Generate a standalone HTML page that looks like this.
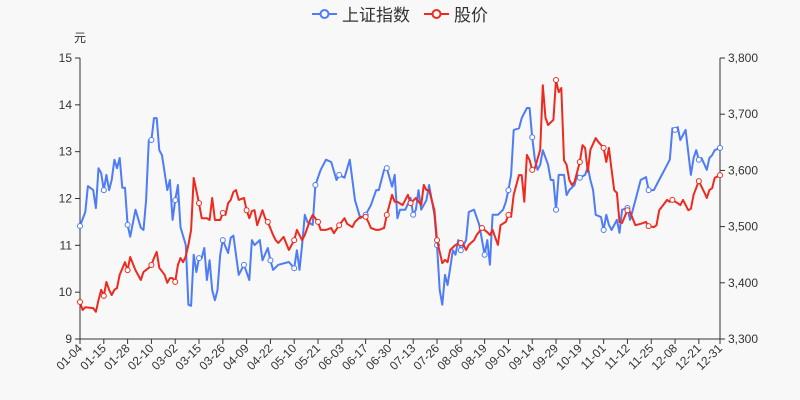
<!DOCTYPE html>
<html><head><meta charset="utf-8"><style>
body{margin:0;background:#f8f8f8;}
svg{display:block;font-family:"Liberation Sans","Noto Sans CJK SC",sans-serif;}
</style></head><body>
<svg id="chart" width="800" height="400">
<rect width="800" height="400" fill="#f8f8f8"/>
<g>
 <g>
  <line x1="312" y1="14" x2="337" y2="14" stroke="#4e7cf6" stroke-width="2"/>
  <circle cx="324.5" cy="14" r="4" fill="#f8f8f8" stroke="#4e7cf6" stroke-width="2"/>
  <text x="342" y="21" font-size="17" fill="#333">上证指数</text>
 </g>
 <g>
  <line x1="424" y1="14" x2="449" y2="14" stroke="#ee2a1f" stroke-width="2"/>
  <circle cx="436.5" cy="14" r="4" fill="#f8f8f8" stroke="#ee2a1f" stroke-width="2"/>
  <text x="454" y="21" font-size="17" fill="#333">股价</text>
 </g>
</g>
<text x="74" y="42" font-size="12" fill="#333">元</text>
<g id="axes"></g>
<g id="series"></g>
</svg>
<script>
const tickLabels=["01-04","01-15","01-28","02-10","03-02","03-15","03-26","04-09","04-22","05-10","05-21","06-03","06-17","06-30","07-13","07-26","08-06","08-19","09-01","09-14","09-29","10-19","11-01","11-12","11-25","12-08","12-21","12-31"];
const leftTicks=[9,10,11,12,13,14,15];
const rightTicks=[3300,3400,3500,3600,3700,3800];
const indexDays=[0,2,3,5,6,7,8,9,10,11,12,13,14,15,16,17,18,19,21,23,24,25,26,27,28,29,30,31,33,34,35,36,37,38,40,41,42,43,44,45,46,47,48,49,50,51,52,53,54,56,57,58,59,60,62,64,65,66,68,69,71,72,73,75,79,81,82,83,84,85,86,88,89,91,93,95,97,98,100,102,104,106,108,110,112,113,115,116,118,119,120,121,123,125,126,127,128,129,131,132,134,135,136,137,138,139,141,142,143,144,146,147,149,151,153,154,155,156,158,160,161,162,163,164,166,167,169,170,171,172,173,174,175,177,178,179,180,181,183,184,185,187,188,189,191,192,193,194,195,197,198,199,200,201,203,204,205,207,208,210,212,214,215,217,218,220,221,223,224,225,226,227,229,231,232,233,234,235,237,238,239,240,242];
const indexValues=[3501,3526,3572,3565,3533,3604,3595,3565,3592,3565,3583,3619,3604,3622,3569,3569,3503,3482,3530,3498,3494,3547,3654,3654,3693,3693,3636,3627,3565,3583,3512,3547,3574,3499,3467,3361,3359,3450,3419,3444,3444,3462,3405,3440,3387,3369,3387,3450,3476,3453,3480,3484,3450,3414,3432,3405,3476,3467,3476,3440,3462,3440,3423,3432,3437,3426,3458,3423,3467,3521,3508,3503,3574,3601,3619,3615,3583,3592,3587,3619,3547,3515,3521,3538,3565,3565,3601,3604,3571,3592,3515,3530,3530,3551,3521,3530,3565,3530,3547,3574,3521,3467,3387,3361,3414,3396,3458,3450,3476,3458,3476,3526,3530,3503,3450,3476,3432,3521,3521,3530,3544,3565,3592,3672,3675,3693,3711,3711,3659,3619,3601,3610,3636,3610,3583,3583,3530,3592,3592,3556,3565,3574,3592,3587,3592,3606,3583,3565,3521,3517,3494,3521,3503,3494,3512,3489,3530,3533,3512,3547,3583,3588,3565,3565,3574,3592,3601,3619,3675,3672,3677,3654,3672,3592,3622,3636,3619,3622,3601,3622,3627,3636,3640];
const priceDays=[0,1,2,5,6,7,8,9,10,11,12,13,14,15,17,18,19,21,23,24,26,27,28,29,30,32,33,34,35,36,37,38,39,40,41,42,43,45,46,48,49,50,51,53,54,55,56,57,58,59,60,62,63,64,65,66,67,69,70,71,73,74,75,77,79,81,82,84,85,87,88,90,91,93,95,96,98,100,101,103,104,106,108,109,110,112,113,115,116,118,119,120,122,123,124,125,127,129,130,131,132,133,134,135,136,137,138,139,140,142,144,145,146,147,149,150,152,154,155,156,158,159,161,162,163,164,166,167,168,169,170,171,172,174,175,176,177,179,180,181,182,183,184,185,186,187,189,190,191,192,193,195,196,198,199,200,201,202,203,204,205,207,208,210,212,214,215,217,218,219,220,222,223,224,226,227,228,230,231,232,234,236,237,238,239,240,242];
const priceValues=[9.79,9.62,9.68,9.66,9.58,9.83,10.05,9.92,10.22,10.05,9.94,10.05,10.09,10.37,10.64,10.47,10.75,10.47,10.26,10.43,10.52,10.58,10.73,10.86,10.52,10.37,10.20,10.30,10.30,10.22,10.58,10.73,10.64,10.77,11.01,11.33,12.44,11.90,11.58,11.58,11.54,12.01,11.54,11.54,11.69,11.65,11.90,11.97,12.14,12.18,11.97,12.01,11.75,11.58,11.73,11.75,11.43,11.75,11.58,11.50,11.22,11.11,11.05,11.18,10.90,11.11,11.33,11.11,11.22,11.54,11.65,11.50,11.33,11.33,11.37,11.26,11.43,11.58,11.46,11.39,11.50,11.61,11.61,11.50,11.37,11.33,11.33,11.37,11.65,12.08,11.93,11.93,11.86,11.97,12.08,11.90,12.01,11.86,12.29,12.18,12.18,11.97,11.75,11.11,10.86,10.62,10.69,10.64,10.90,11.01,11.05,11.01,10.90,11.01,11.11,11.22,11.37,11.28,11.22,11.33,11.01,11.43,11.50,11.65,11.61,12.08,12.50,12.50,11.93,12.93,12.82,12.61,12.65,13.04,14.42,13.72,13.57,13.68,14.53,14.27,14.36,12.82,12.72,12.40,12.29,12.35,12.78,13.14,13.08,12.57,13.04,13.29,13.21,13.08,12.78,13.08,12.61,12.18,12.12,11.50,11.48,11.75,11.71,11.43,11.46,11.50,11.41,11.39,11.43,11.75,11.82,11.97,11.93,11.97,11.90,11.86,11.97,11.75,11.78,12.08,12.37,12.14,12.01,12.18,12.22,12.44,12.50];

const X0=80,X1=720,Y0=339,Y1=58,DMAX=242;
const NS="http://www.w3.org/2000/svg";
function xs(d){return X0+(d/DMAX)*(X1-X0);}
function yl(v){return Y0-(v-9)/(15-9)*(Y0-Y1);}
function yr(v){return Y0-(v-3300)/(3800-3300)*(Y0-Y1);}
function mk(tag,attrs,parent){const e=document.createElementNS(NS,tag);for(const k in attrs)e.setAttribute(k,attrs[k]);parent.appendChild(e);return e;}
const axes=document.getElementById('axes'),ser=document.getElementById('series');

const la=mk('line',{x1:X0,y1:Y1,x2:X0,y2:Y0,stroke:'#333'},axes);


const ra=mk('line',{x1:X1,y1:Y1,x2:X1,y2:Y0,stroke:'#333'},axes);


const xa=mk('line',{x1:X0,y1:Y0,x2:X1,y2:Y0,stroke:'#333'},axes);



leftTicks.forEach(v=>{const y=yl(v);
 mk('line',{x1:X0-5,y1:y,x2:X0,y2:y,stroke:'#333'},axes);
 const t=mk('text',{x:X0-8,y:y+4,'text-anchor':'end','font-size':12,fill:'#333'},axes);t.textContent=v;
 
 });
rightTicks.forEach(v=>{const y=yr(v);
 mk('line',{x1:X1,y1:y,x2:X1+5,y2:y,stroke:'#333'},axes);
 const t=mk('text',{x:X1+8,y:y+4,'font-size':12,fill:'#333'},axes);t.textContent=v.toLocaleString('en-US');
 
 });
const tickDays=tickLabels.map((_,i)=>i===tickLabels.length-1?DMAX:i*9);
tickLabels.forEach((lab,i)=>{const x=xs(tickDays[i]);
 mk('line',{x1:x,y1:Y0,x2:x,y2:Y0+5,stroke:'#333'},axes);
 const t=mk('text',{x:x+3,y:Y0+10,'text-anchor':'end','font-size':12,fill:'#333',transform:`rotate(-45 ${x+3} ${Y0+10})`},axes);t.textContent=lab;
 
 });

function draw(days,vals,yf,color,name){
 const d=days.map((dd,i)=>(i?'L':'M')+xs(dd).toFixed(1)+','+yf(vals[i]).toFixed(1)).join('');
 const p=mk('path',{d:d,fill:'none',stroke:color,'stroke-width':2,'stroke-linejoin':'round'},ser);
 
 
 tickDays.forEach(td=>{let bi=0;days.forEach((dd,i)=>{if(Math.abs(dd-td)<Math.abs(days[bi]-td))bi=i;});
  const c=mk('circle',{cx:xs(days[bi]),cy:yf(vals[bi]),r:2.5,fill:'#fff',stroke:color,'stroke-width':1},ser);
  
  });
}
draw(indexDays,indexValues,yr,'#4e7cf6','index');
draw(priceDays,priceValues,yl,'#ee2a1f','price');
</script>
</body></html>
